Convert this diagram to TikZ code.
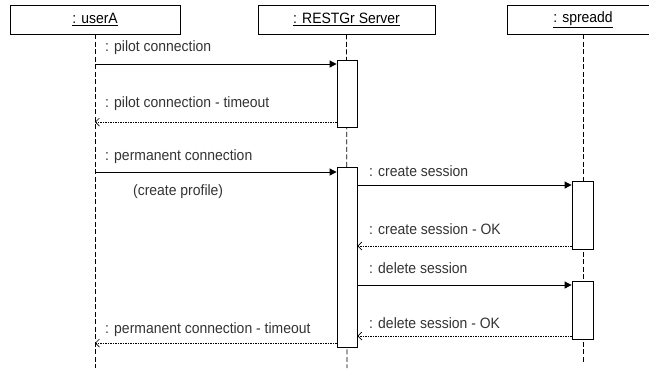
\documentclass[tikz,border=0pt]{standalone}
\usepackage{fontspec}
\setmainfont[FakeStretch=0.93]{Liberation Sans}
\usetikzlibrary{arrows.meta}

\tikzset{
  obj/.style={draw, line width=0.8pt, minimum height=29pt, inner sep=0pt},
  act/.style={draw, fill=white, line width=0.8pt, minimum width=20pt, inner sep=0pt},
  life/.style={line width=0.7pt, dash pattern=on 5pt off 2.5pt},
  call/.style={line width=0.8pt, -{Triangle[length=7pt,width=7pt]}},
  reply/.style={line width=0.7pt, dash pattern=on 1.5pt off 1pt, -{Straight Barb[length=4pt,width=8pt]}},
  lbl/.style={anchor=west, inner sep=0pt, text=black!80}
}

\begin{document}
\begin{tikzpicture}[x=1pt, y=-1pt, font=\fontsize{15pt}{17pt}\selectfont]
\useasboundingbox (0,0) rectangle (649,368);
\clip (0,0) rectangle (649,368);
%
\node[obj, minimum width=170pt] (userA) at (95,19.5) {\underline{: userA}};
\node[obj, minimum width=177pt] (server) at (346.5,19.5) {\underline{: RESTGr Server}};
\node[obj, minimum width=152pt] (spreadd) at (583,19.5) {\underline{: spreadd}};
%
\coordinate (userAend) at (95,368);
\coordinate (serverend) at (347,368);
\coordinate (spreaddend) at (583,364);
\draw[life] (userA) -- (userAend);
\draw[life] (server) -- (serverend);
\draw[life] (spreadd) -- (spreaddend);
%
\node[act, minimum height=67pt] (srv1) at (347,93.5) {};
\node[act, minimum height=180pt] (srv2) at (347,257) {};
\node[act, minimum width=21pt, minimum height=68pt] (spr1) at (582.5,215) {};
\node[act, minimum width=21pt, minimum height=58pt] (spr2) at (582.5,310) {};
%
\coordinate (m1) at (95,64);
\coordinate (m2) at (95,122);
\coordinate (m3) at (95,172);
\coordinate (m4) at (95,343);
\coordinate (s1) at (0,185);
\coordinate (s2) at (0,246);
\coordinate (s3) at (0,285);
\coordinate (s4) at (0,336);
%
\draw[call] (m1) -- (srv1.west |- m1);
\draw[reply] (srv1.west |- m2) -- (m2);
\draw[call] (m3) -- (srv2.west |- m3);
\draw[call] (srv2.east |- s1) -- (spr1.west |- s1);
\draw[reply] (spr1.west |- s2) -- (srv2.east |- s2);
\draw[call] (srv2.east |- s3) -- (spr2.west |- s3);
\draw[reply] (spr2.west |- s4) -- (srv2.east |- s4);
\draw[reply] (srv2.west |- m4) -- (m4);
%
\node[lbl] (pilot) at (105,48) {: pilot connection};
\node[lbl] (pilotout) at (105,104) {: pilot connection - timeout};
\node[lbl] (perm) at (105,157) {: permanent connection};
\node[lbl] (profile) at (133,192) {(create profile)};
\node[lbl] (create) at (369,171) {: create session};
\node[lbl] (createok) at (369,229) {: create session - OK};
\node[lbl] (delete) at (369,268) {: delete session};
\node[lbl] (deleteok) at (369,323) {: delete session - OK};
\node[lbl] (permout) at (105,330) {: permanent connection - timeout};
\end{tikzpicture}
\end{document}
